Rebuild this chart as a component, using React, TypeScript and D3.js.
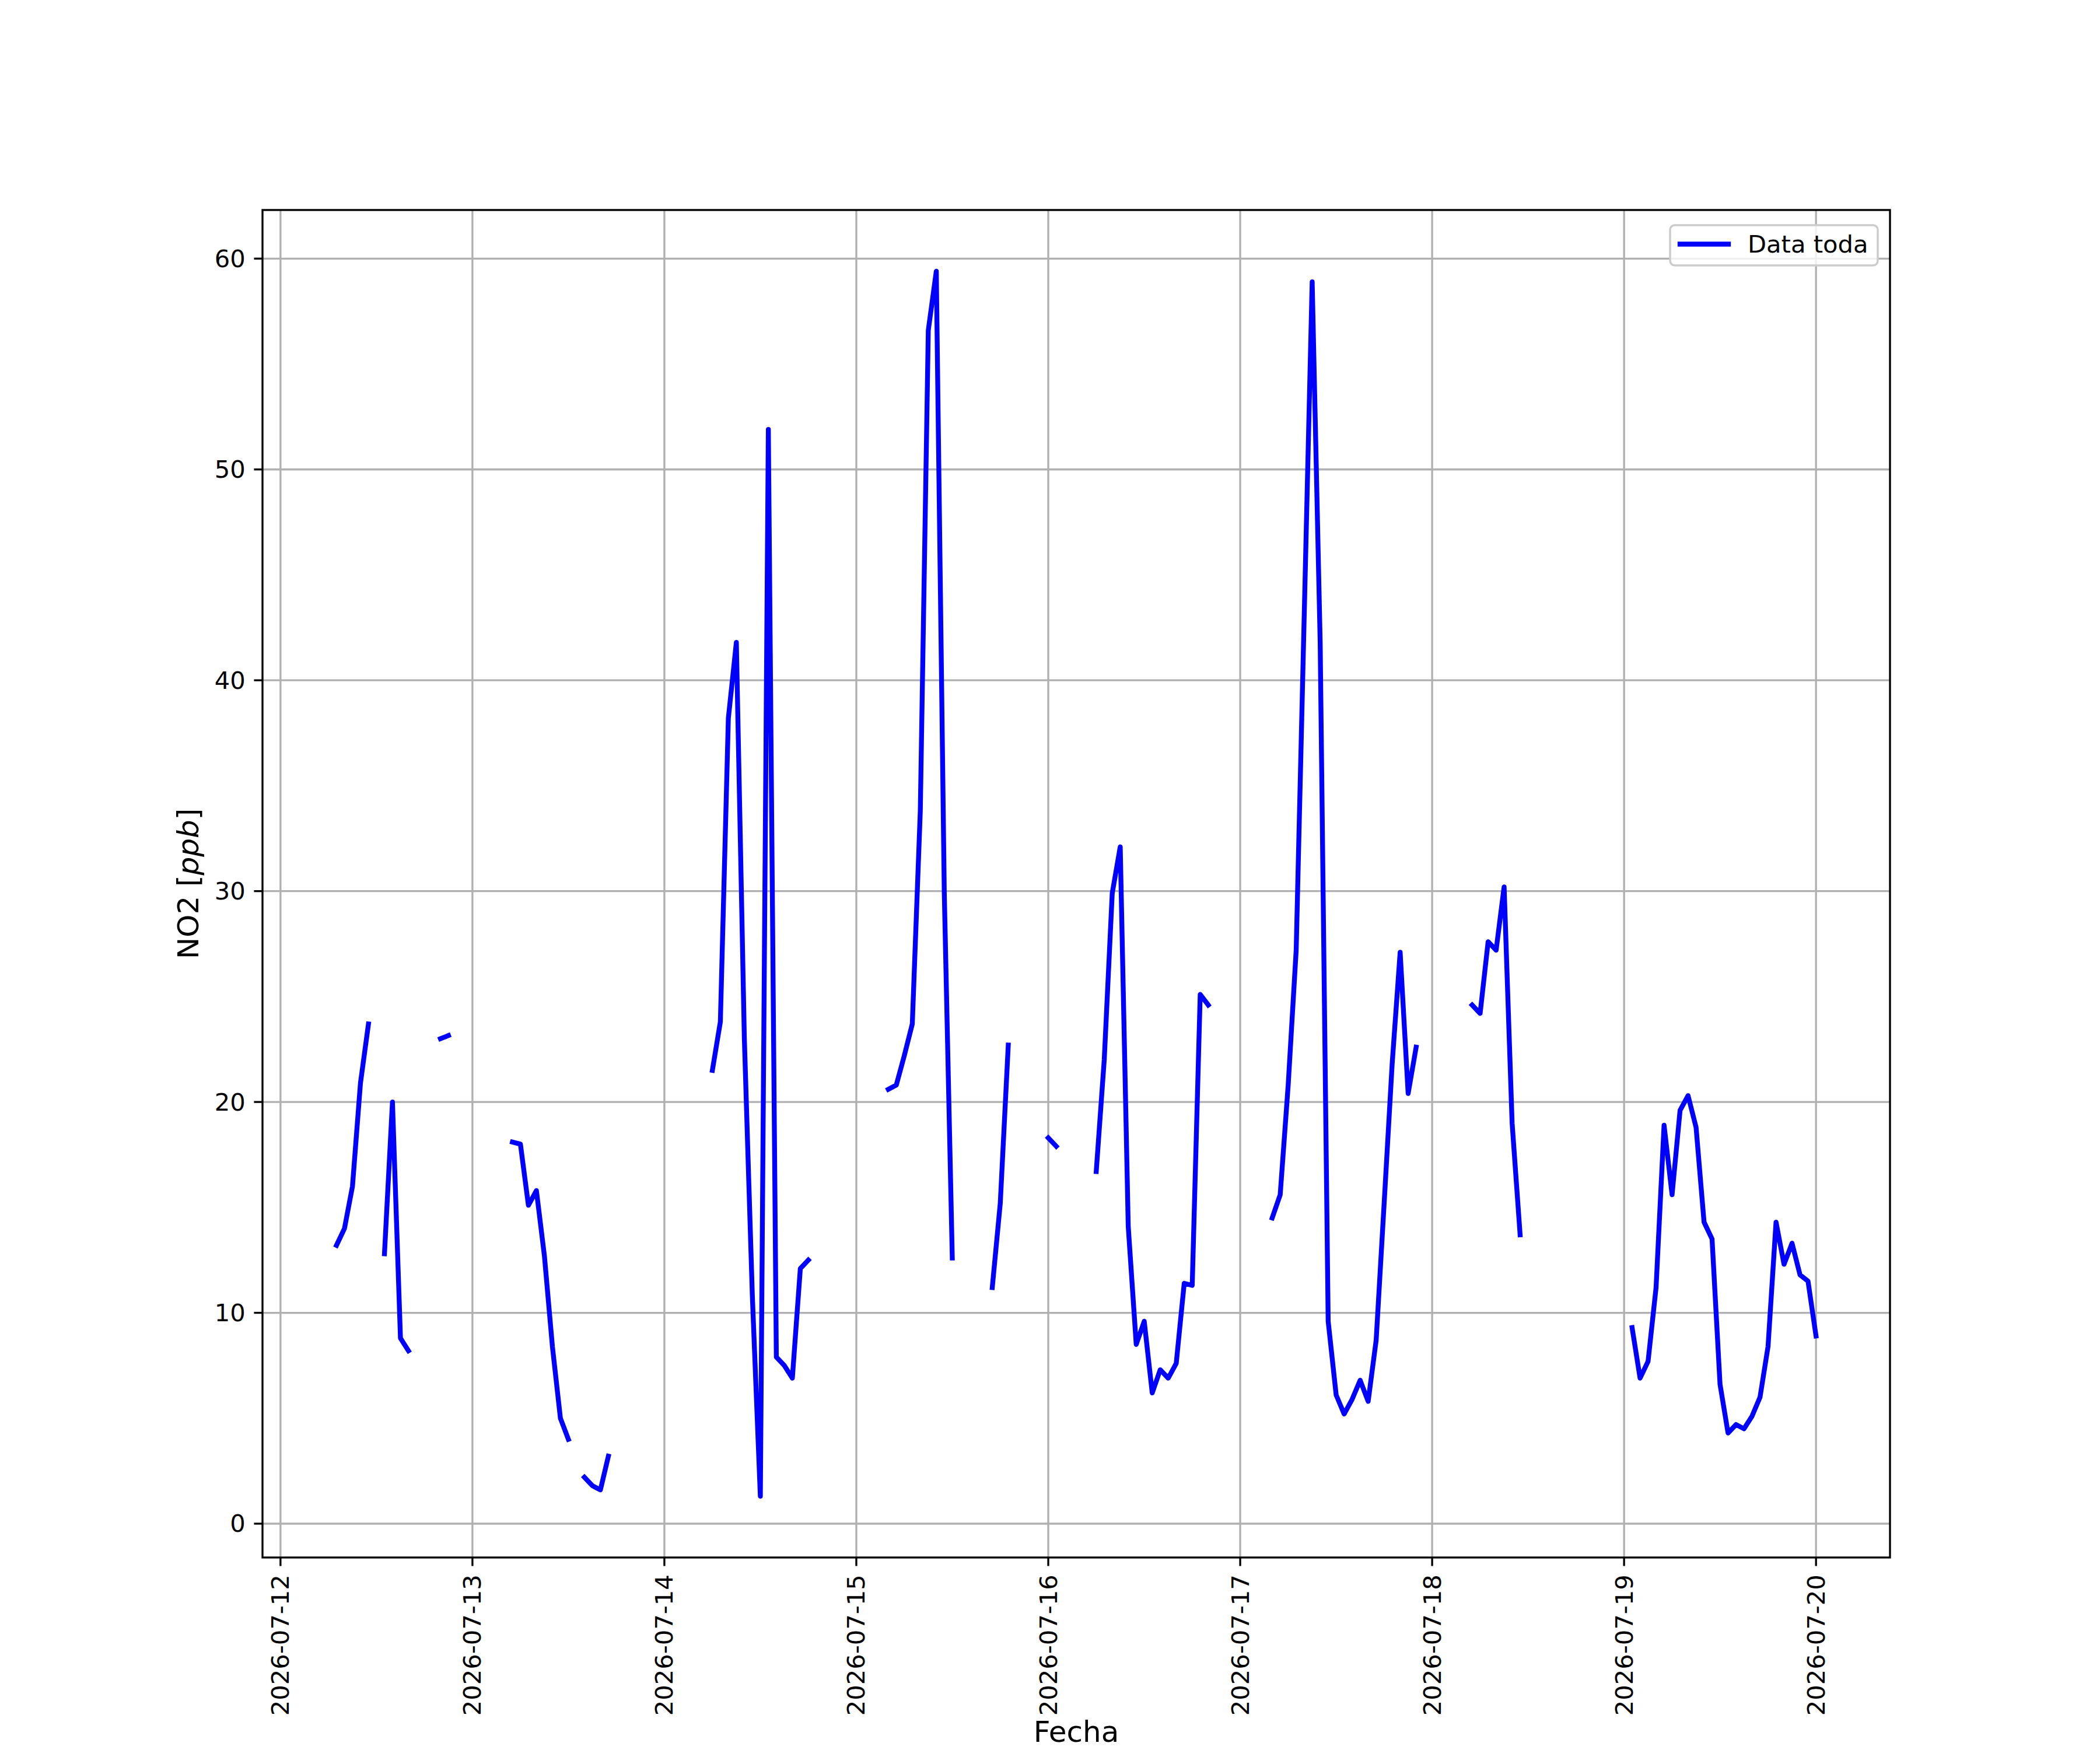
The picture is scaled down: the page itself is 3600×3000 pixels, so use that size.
import * as React from 'react';
import * as d3 from 'd3';

// Hourly NO2 readings from 2026-07-12 00:00, null = missing hour
const startDate = new Date(2026, 6, 12, 0, 0, 0);

const no2Hourly: (number | null)[] = [
  null, null, null, null, null, null, null,
  13.2, 14.0, 16.0, 20.9, 23.7,
  null,
  12.8, 20.0, 8.8, 8.2,
  null, null, null,
  23.0, 23.15,
  null, null, null, null, null, null, null,
  18.1, 18.0, 15.1, 15.8, 12.7, 8.4, 5.0, 4.0,
  null,
  2.2, 1.8, 1.6, 3.2,
  null, null, null, null, null, null, null, null, null, null, null, null,
  21.5, 23.8, 38.2, 41.8, 23.0, 10.8, 1.3, 51.9, 7.9, 7.5, 6.9, 12.1, 12.5,
  null, null, null, null, null, null, null, null, null,
  20.6, 20.8, 22.2, 23.7, 33.8, 56.6, 59.4, 29.9, 12.6,
  null, null, null, null,
  11.2, 15.2, 22.7,
  null, null, null, null,
  18.3, 17.9,
  null, null, null, null,
  16.7, 22.0, 29.9, 32.1, 14.1, 8.5, 9.6, 6.2, 7.3, 6.9, 7.6, 11.4, 11.3, 25.1, 24.6,
  null, null, null, null, null, null, null,
  14.5, 15.6, 20.8, 27.2, 43.0, 58.9, 41.8, 9.6, 6.1, 5.2, 5.9, 6.8, 5.8, 8.7, 15.2, 21.8, 27.1, 20.4, 22.6,
  null, null, null, null, null, null,
  24.6, 24.2, 27.6, 27.2, 30.2, 19.0, 13.7,
  null, null, null, null, null, null, null, null, null, null, null, null, null,
  9.3, 6.9, 7.7, 11.2, 18.9, 15.6, 19.6, 20.3, 18.8, 14.3, 13.5, 6.6, 4.3, 4.7, 4.5, 5.1, 6.0, 8.4, 14.3, 12.3, 13.3, 11.8, 11.5, 8.9,
];

const yTicks = [0, 10, 20, 30, 40, 50, 60];
const dayTicks = [
  '2026-07-12', '2026-07-13', '2026-07-14', '2026-07-15', '2026-07-16',
  '2026-07-17', '2026-07-18', '2026-07-19', '2026-07-20',
];
const seriesLabel = 'Data toda';

const W = 3600;
const H = 3000;
const margin = { left: 450, right: 360, top: 360, bottom: 330 };
const FS = 41.67;      // 10pt at 300dpi
const LABEL_FS = 50;   // 12pt axis labels
const TICK = 14.58;
const LW = 3.33;

interface Pt { t: Date; v: number | null }

const App: React.FC = () => {
  const points: Pt[] = no2Hourly.map((v, i) => ({ t: d3.timeHour.offset(startDate, i), v }));
  const valid = points.filter(p => p.v !== null);

  const x0 = margin.left;
  const x1 = W - margin.right;
  const y0 = margin.top;
  const y1 = H - margin.bottom;

  // matplotlib-style 5% margins around the data
  const [tMin, tMax] = d3.extent(valid, p => +p.t) as [number, number];
  const tPad = (tMax - tMin) * 0.05;
  const x = d3.scaleTime().domain([new Date(tMin - tPad), new Date(tMax + tPad)]).range([x0, x1]);

  const [vMin, vMax] = d3.extent(valid, p => p.v as number) as [number, number];
  const vPad = (vMax - vMin) * 0.05;
  const y = d3.scaleLinear().domain([vMin - vPad, vMax + vPad]).range([y1, y0]);

  const line = d3.line<Pt>()
    .defined(p => p.v !== null)
    .x(p => x(p.t))
    .y(p => y(p.v as number));

  const parse = d3.timeParse('%Y-%m-%d');
  const days = dayTicks.map(d => ({ label: d, date: parse(d) as Date }));

  const legend = { x: 2863, y: 386, w: 356, h: 69 };

  return (
    <svg width={W} height={H} style={{ display: 'block', background: '#fff' }}
      fontFamily="DejaVu Sans" fontSize={FS}>
      <style>{'body{margin:0}'}</style>
      <rect x={0} y={0} width={W} height={H} fill="#fff" />
      <defs>
        <clipPath id="plotclip">
          <rect x={x0} y={y0} width={x1 - x0} height={y1 - y0} />
        </clipPath>
      </defs>

      {/* grid */}
      <g stroke="#b0b0b0" strokeWidth={LW}>
        {days.map(d => (
          <line key={d.label} x1={x(d.date)} x2={x(d.date)} y1={y0} y2={y1} />
        ))}
        {yTicks.map(t => (
          <line key={t} x1={x0} x2={x1} y1={y(t)} y2={y(t)} />
        ))}
      </g>

      {/* data */}
      <path d={line(points) ?? ''} fill="none" stroke="#0000ff" strokeWidth={8.33}
        strokeLinejoin="round" strokeLinecap="square" clipPath="url(#plotclip)" />

      {/* frame */}
      <rect x={x0} y={y0} width={x1 - x0} height={y1 - y0} fill="none" stroke="#000" strokeWidth={LW} />

      {/* x ticks */}
      {days.map(d => (
        <g key={d.label}>
          <line x1={x(d.date)} x2={x(d.date)} y1={y1} y2={y1 + TICK} stroke="#000" strokeWidth={LW} />
          <text x={x(d.date)} y={y1 + TICK + 14.58} textAnchor="end" dominantBaseline="central"
            transform={`rotate(-90, ${x(d.date)}, ${y1 + TICK + 14.58})`}>{d.label}</text>
        </g>
      ))}

      {/* y ticks */}
      {yTicks.map(t => (
        <g key={t}>
          <line x1={x0 - TICK} x2={x0} y1={y(t)} y2={y(t)} stroke="#000" strokeWidth={LW} />
          <text x={x0 - TICK - 14.58} y={y(t)} textAnchor="end" dominantBaseline="central">{t}</text>
        </g>
      ))}

      {/* axis labels */}
      <text x={(x0 + x1) / 2} y={2986} textAnchor="middle" fontSize={LABEL_FS}>Fecha</text>
      <text x={323} y={(y0 + y1) / 2} textAnchor="middle" dominantBaseline="central" fontSize={LABEL_FS}
        transform={`rotate(-90, 323, ${(y0 + y1) / 2})`}>
        NO2 [<tspan fontStyle="italic">ppb</tspan>]
      </text>

      {/* legend */}
      <g>
        <rect x={legend.x} y={legend.y} width={legend.w} height={legend.h} rx={8} ry={8}
          fill="#fff" fillOpacity={0.8} stroke="#cccccc" strokeWidth={3.5} />
        <line x1={legend.x + 17} x2={legend.x + 17 + 83} y1={legend.y + legend.h / 2 - 2}
          y2={legend.y + legend.h / 2 - 2} stroke="#0000ff" strokeWidth={8.33} strokeLinecap="square" />
        <text x={legend.x + 17 + 83 + 33} y={legend.y + legend.h / 2 - 2} dominantBaseline="central">{seriesLabel}</text>
      </g>
    </svg>
  );
};

export default App;
